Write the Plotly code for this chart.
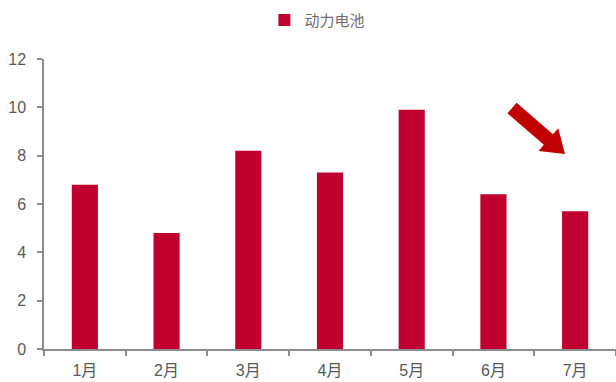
import plotly.graph_objects as go
import math

months = ["1月", "2月", "3月", "4月", "5月", "6月", "7月"]
values = [6.8, 4.8, 8.2, 7.3, 9.9, 6.4, 5.7]
series_name = "动力电池"
y_ticks = [0, 2, 4, 6, 8, 10, 12]

bar_color = "#C0002F"
axis_color = "#8C8C8C"
text_color = "#595959"

W, H = 616, 382
ML, MR, MT, MB = 44, 0, 59, 33
PW, PH = W - ML - MR, H - MT - MB

fig = go.Figure()
fig.add_trace(go.Bar(x=months, y=values, name=series_name,
                     marker=dict(color=bar_color, line=dict(width=0)),
                     width=0.32, showlegend=True))

fig.update_layout(
    width=W, height=H,
    margin=dict(l=ML, r=MR, t=MT, b=MB),
    plot_bgcolor="white", paper_bgcolor="white",
    font=dict(family="Liberation Sans, Arial, sans-serif", size=16, color=text_color),
    showlegend=True,
    legend=dict(orientation="h", x=0.478, xanchor="center", y=1.134, yanchor="middle",
                font=dict(family="Noto Sans CJK SC", size=15, color="#6f6f6f"),
                itemwidth=30),
)
fig.update_xaxes(showline=True, linecolor=axis_color, linewidth=1.5,
                 ticks="outside", tickson="boundaries", ticklen=5, tickcolor=axis_color,
                 tickwidth=1.5, showgrid=False, ticklabelstandoff=6,
                 tickfont=dict(family="Liberation Sans, Noto Sans CJK SC", size=16, color=text_color))
fig.update_yaxes(range=[0, 12], tickvals=y_ticks, showline=True, linecolor=axis_color,
                 linewidth=1.5, ticks="outside", ticklen=5, tickcolor=axis_color, tickwidth=1.5,
                 showgrid=False, zeroline=False, ticklabelstandoff=8,
                 tickfont=dict(size=16, color=text_color))

# Decorative arrow (pixel geometry converted to paper coords)
tail = (512, 108)
tip = (565, 154)
dx, dy = tip[0] - tail[0], tip[1] - tail[1]
L = math.hypot(dx, dy)
ux, uy = dx / L, dy / L
nx, ny = -uy, ux
sw, hl, hw = 7, 22, 15
bx, by = tip[0] - ux * hl, tip[1] - uy * hl
pts = [
    (tail[0] + nx * sw, tail[1] + ny * sw),
    (bx + nx * sw, by + ny * sw),
    (bx + nx * hw, by + ny * hw),
    tip,
    (bx - nx * hw, by - ny * hw),
    (bx - nx * sw, by - ny * sw),
    (tail[0] - nx * sw, tail[1] - ny * sw),
]
def to_paper(p):
    return ((p[0] - ML) / PW, (H - MB - p[1]) / PH)
pp = [to_paper(p) for p in pts]
path = "M " + " L ".join(f"{x:.4f},{y:.4f}" for x, y in pp) + " Z"
fig.add_shape(type="path", path=path, xref="paper", yref="paper",
              fillcolor="#C00000", line=dict(width=0))

fig.write_html("out.html")
